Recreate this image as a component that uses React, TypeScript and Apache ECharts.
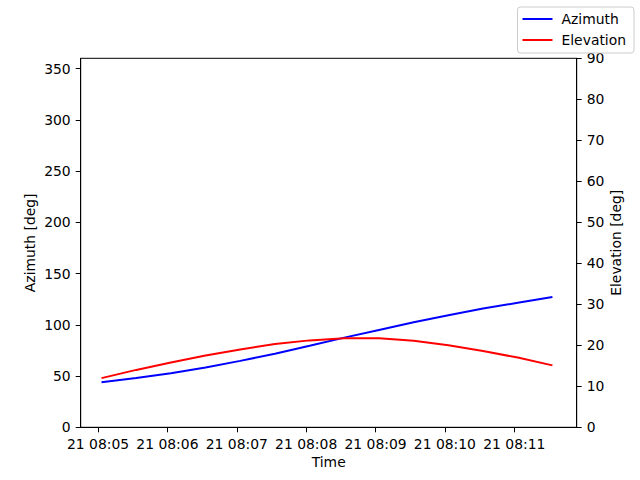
import React, { useEffect, useRef } from "react";
import * as echarts from "echarts";

// Sample times (HH:MM:SS on day 21)
const times = [
  "08:05:03", "08:05:33", "08:06:03", "08:06:33", "08:07:03", "08:07:33", "08:08:03",
  "08:08:33", "08:09:03", "08:09:33", "08:10:03", "08:10:33", "08:11:03", "08:11:33",
];
const azimuth = [43.9, 48.0, 52.8, 58.3, 64.8, 71.8, 79.5, 87.5, 95.0, 102.5, 109.3, 115.8, 121.5, 127.2];
const elevation = [12.0, 14.0, 15.8, 17.5, 19.0, 20.3, 21.2, 21.7, 21.7, 21.1, 20.0, 18.6, 17.0, 15.1];

const xTickLabels = ["21 08:05", "21 08:06", "21 08:07", "21 08:08", "21 08:09", "21 08:10", "21 08:11"];
const azTicks = [0, 50, 100, 150, 200, 250, 300, 350];
const elTicks = [0, 10, 20, 30, 40, 50, 60, 70, 80, 90];

const ORIGIN = 8 * 3600 + 5 * 60; // 08:05:00
const toSec = (t: string) => {
  const [h, m, s] = t.split(":").map(Number);
  return h * 3600 + m * 60 + s - ORIGIN;
};
const xTickValues = xTickLabels.map((_, i) => i * 60);

const FONT = "DejaVu Sans";

export default function App() {
  const ref = useRef<HTMLDivElement>(null);
  useEffect(() => {
    const chart = echarts.init(ref.current!, null, { renderer: "svg" });
    const axisCommon = {
      axisTick: { show: true, inside: false, length: 5, lineStyle: { color: "#000", width: 1 } },
      splitLine: { show: false },
      nameMoveOverlap: false,
      nameTextStyle: { color: "#000", fontSize: 13.9, fontFamily: FONT },
    };
    const axisLine = { show: true, onZero: false, lineStyle: { color: "#000", width: 1 } };
    const labelCommon = { color: "#000", fontSize: 13.9, fontFamily: FONT, margin: 10 };
    chart.setOption({
      animation: false,
      backgroundColor: "#fff",
      textStyle: { fontFamily: FONT },
      grid: {
        left: 80.7,
        right: 63.3,
        top: 58.3,
        bottom: 52.7,
        show: true,
        borderColor: "#000",
        borderWidth: 1,
        backgroundColor: "transparent",
      },
      legend: {
        right: 6,
        top: 7,
        orient: "vertical",
        itemWidth: 30,
        itemHeight: 14,
        itemGap: 7,
        padding: [5, 8, 6, 4],
        borderColor: "#cccccc",
        borderWidth: 1,
        borderRadius: 3,
        backgroundColor: "rgba(255,255,255,0.8)",
        itemStyle: { opacity: 0 },
        textStyle: { color: "#000", fontSize: 13.9, fontFamily: FONT, padding: [0, 0, 0, 4] },
        data: ["Azimuth", "Elevation"],
      },
      xAxis: {
        type: "value",
        min: -15,
        max: 414,
        name: "Time",
        nameLocation: "middle",
        nameGap: 28,
        ...axisCommon,
        axisLine,
        axisTick: { ...axisCommon.axisTick, customValues: xTickValues },
        axisLabel: {
          ...labelCommon,
          customValues: xTickValues,
          formatter: (v: number) => xTickLabels[Math.round(v / 60)] ?? "",
        },
      },
      yAxis: [
        {
          type: "value",
          min: 0,
          max: 360,
          name: "Azimuth [deg]",
          nameLocation: "middle",
          nameGap: 44,
          position: "left",
          ...axisCommon,
          axisLine,
          axisTick: { ...axisCommon.axisTick, customValues: azTicks },
          axisLabel: { ...labelCommon, customValues: azTicks },
        },
        {
          type: "value",
          min: 0,
          max: 90,
          interval: 10,
          name: "Elevation [deg]",
          nameLocation: "middle",
          nameGap: 32,
          position: "right",
          ...axisCommon,
          axisLine,
          axisTick: { ...axisCommon.axisTick, customValues: elTicks },
          axisLabel: { ...labelCommon, customValues: elTicks },
        },
      ],
      series: [
        {
          name: "Azimuth",
          type: "line",
          yAxisIndex: 0,
          symbol: "none",
          smooth: false,
          lineStyle: { color: "#0000ff", width: 2 },
          itemStyle: { color: "#0000ff" },
          data: times.map((t, i) => [toSec(t), azimuth[i]]),
        },
        {
          name: "Elevation",
          type: "line",
          yAxisIndex: 1,
          symbol: "none",
          smooth: false,
          lineStyle: { color: "#ff0000", width: 2 },
          itemStyle: { color: "#ff0000" },
          data: times.map((t, i) => [toSec(t), elevation[i]]),
        },
      ],
    });
    return () => chart.dispose();
  }, []);
  return (
    <div
      ref={ref}
      style={{ position: "absolute", left: 0, top: 0, width: 640, height: 480 }}
    />
  );
}
